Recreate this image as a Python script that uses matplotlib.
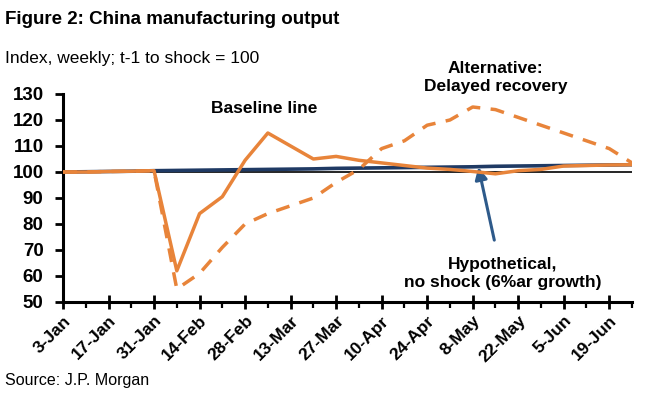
import matplotlib.pyplot as plt
from matplotlib.ticker import MultipleLocator

# weekly index, 3-Jan .. 26-Jun
weeks = list(range(26))
tick_labels = ["3-Jan", "17-Jan", "31-Jan", "14-Feb", "28-Feb", "13-Mar", "27-Mar",
               "10-Apr", "24-Apr", "8-May", "22-May", "5-Jun", "19-Jun"]

baseline = [100, 100, 100.2, 100.3, 100.5, 62, 84, 90.5, 104.5, 115, 110, 105,
            106, 104.5, 103.5, 102.5, 101.5, 101, 100.2, 99.3, 100.5, 101, 102.3,
            102.5, 102.7, 102.8]
alternative = [100, 100, 100.2, 100.3, 100.5, 55, 61, 71, 80, 84, 87, 90,
               96, 101, 109, 112, 118, 120, 125, 124, 121, 118, 115, 112, 109, 103.5]
hypothetical = [100, 100.1, 100.2, 100.3, 100.5, 100.6, 100.7, 100.8, 100.9, 101.0,
                101.1, 101.2, 101.4, 101.5, 101.6, 101.7, 101.8, 101.9, 102.0, 102.2,
                102.3, 102.4, 102.5, 102.6, 102.7, 102.8]

plt.rcParams['font.family'] = ['Liberation Sans', 'DejaVu Sans']

orange = '#E8843A'
navy = '#1F3A64'
W, H = 652, 398

fig = plt.figure(figsize=(W / 100, H / 100), dpi=100)
ax = fig.add_axes([63 / W, 1 - 302 / H, (632 - 63) / W, (302 - 94) / H])

ax.axhline(100, color='black', lw=1.2, zorder=1)
ax.plot(weeks, hypothetical, color=navy, lw=2.6, zorder=2)
ax.plot(weeks, alternative, color=orange, lw=2.5, ls=(0, (4, 3)), zorder=3)
ax.plot(weeks, baseline, color=orange, lw=2.5, zorder=4)

ax.set_xlim(0, 25)
ax.set_ylim(50, 130)
ax.yaxis.set_major_locator(MultipleLocator(10))
ax.set_xticks(weeks[::2])
ax.set_xticklabels(tick_labels, rotation=45, ha='right', rotation_mode='anchor',
                   fontsize=12.5, fontweight='bold')
ax.xaxis.set_minor_locator(MultipleLocator(1))
for lab in ax.get_yticklabels():
    lab.set_fontweight('bold')
    lab.set_fontsize(13.5)
ax.tick_params(axis='x', which='major', direction='inout', length=10, width=2, pad=3)
ax.tick_params(axis='x', which='minor', direction='out', length=4, width=1.6)
ax.tick_params(axis='y', direction='out', length=6, width=2, pad=8)
for s in ['top', 'right']:
    ax.spines[s].set_visible(False)
for s in ['left', 'bottom']:
    ax.spines[s].set_linewidth(2.2)
ax.set_facecolor('none')

bold = dict(fontsize=12.5, fontweight='bold', ha='center', va='center', linespacing=1.25)
ax.text(8.86, 124.6, "Baseline line", **bold)
ax.text(19.0, 136.5, "Alternative:\nDelayed recovery", clip_on=False, **bold)
ax.text(19.3, 60.8, "Hypothetical,\nno shock (6%ar growth)", **bold)
ax.annotate("", xy=(18.25, 101.9), xytext=(18.95, 73.8),
            arrowprops=dict(arrowstyle='-|>', color='#2E5A8A', lw=2.2, mutation_scale=18,
                            shrinkA=0, shrinkB=0))

fig.text(5 / W, 1 - 20 / H, "Figure 2: China manufacturing output", fontsize=13.5,
         fontweight='bold', va='center')
fig.text(5 / W, 1 - 58 / H, "Index, weekly; t-1 to shock = 100", fontsize=12.5, va='center')
fig.text(5 / W, 1 - 381 / H, "Source: J.P. Morgan", fontsize=11.5, va='center')

fig.savefig("out.png", dpi=100)
